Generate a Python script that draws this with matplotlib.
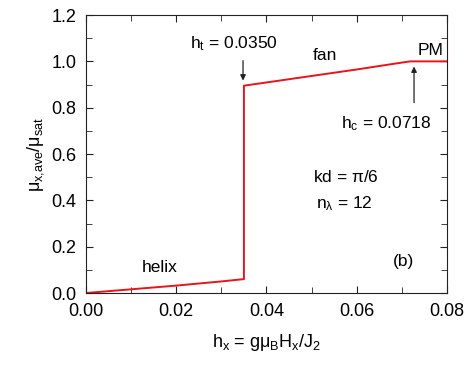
import matplotlib
matplotlib.use('Agg')
import matplotlib.pyplot as plt
from matplotlib.ticker import MultipleLocator

# data
h_helix = [0.0, 0.005, 0.010, 0.015, 0.020, 0.025, 0.030, 0.0350]
m_helix = [0.0, 0.008, 0.016, 0.024, 0.032, 0.041, 0.050, 0.060]
h_fan = [0.0350, 0.040, 0.045, 0.050, 0.055, 0.060, 0.065, 0.0718]
m_fan = [0.895, 0.909, 0.923, 0.937, 0.951, 0.965, 0.980, 1.0]
h_pm = [0.0718, 0.080]
m_pm = [1.0, 1.0]

plt.rcParams['font.family'] = ['Liberation Sans', 'DejaVu Sans']
plt.rcParams['mathtext.fontset'] = 'custom'
plt.rcParams['mathtext.rm'] = 'Liberation Sans'
plt.rcParams['mathtext.it'] = 'Liberation Sans'

fig = plt.figure(figsize=(4.71, 3.67), dpi=100)
ax = fig.add_axes([0.1826, 0.2016, 0.949 - 0.1826, 0.959 - 0.2016])

h = h_helix + h_fan + h_pm[1:]
m = m_helix + m_fan + m_pm[1:]
ax.plot(h, m, color='#e8141c', lw=1.4)

ax.set_xlim(0, 0.08)
ax.set_ylim(0, 1.2)
ax.xaxis.set_major_locator(MultipleLocator(0.02))
ax.xaxis.set_minor_locator(MultipleLocator(0.01))
ax.yaxis.set_major_locator(MultipleLocator(0.2))
ax.yaxis.set_minor_locator(MultipleLocator(0.1))
ax.xaxis.set_major_formatter(plt.FormatStrFormatter('%.2f'))
ax.yaxis.set_major_formatter(plt.FormatStrFormatter('%.1f'))
ax.tick_params(which='both', direction='in', top=True, right=True, labelsize=13, color='#222222')
ax.tick_params(which='major', length=5, pad=7)
ax.tick_params(which='minor', length=4)
for s in ax.spines.values():
    s.set_color('#222222')

ax.set_xlabel(r'h$_{\mathrm{x}}$ = g$\mu_{\mathrm{B}}$H$_{\mathrm{x}}$/J$_{2}$', fontsize=13, labelpad=9)
ax.set_ylabel(r'$\mu_{\mathrm{x{,}ave}}$/$\mu_{\mathrm{sat}}$', fontsize=13, labelpad=4)

fs = 12.5
ax.text(0.0124, 0.09, 'helix', fontsize=fs)
ax.text(0.023, 1.055, r'h$_{\mathrm{t}}$ = 0.0350', fontsize=fs)
ax.annotate('', xy=(0.0348, 0.905), xytext=(0.0348, 1.015),
            arrowprops=dict(arrowstyle='-|>', color='#222222', lw=0.9, mutation_scale=8))
ax.text(0.0503, 1.006, 'fan', fontsize=fs)
ax.text(0.0735, 1.027, 'PM', fontsize=fs)
ax.text(0.0565, 0.71, r'h$_{\mathrm{c}}$ = 0.0718', fontsize=fs)
ax.annotate('', xy=(0.0727, 0.99), xytext=(0.0727, 0.81),
            arrowprops=dict(arrowstyle='-|>', color='#222222', lw=0.9, mutation_scale=8))
ax.text(0.0503, 0.48, r'kd = $\pi$/6', fontsize=fs)
ax.text(0.051, 0.367, r'n$_{\lambda}$ = 12', fontsize=fs)
ax.text(0.068, 0.117, '(b)', fontsize=fs)

fig.savefig('out.png', dpi=100)
